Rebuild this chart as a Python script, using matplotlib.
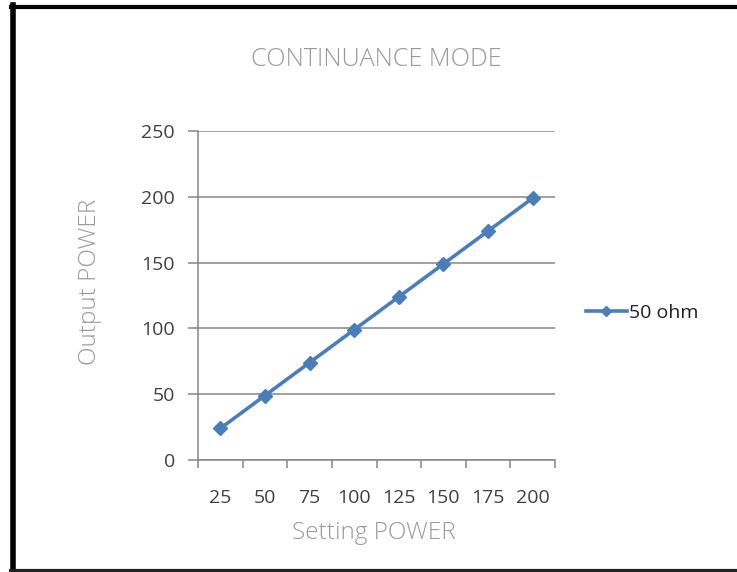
import matplotlib
matplotlib.use("Agg")
import matplotlib.pyplot as plt
from matplotlib.lines import Line2D

# data
setting_power = ["25", "50", "75", "100", "125", "150", "175", "200"]
output_50ohm = [24, 49, 74, 99, 124, 149, 174, 199]
y_ticks = [0, 50, 100, 150, 200, 250]

plt.rcParams['font.family'] = ['Open Sans', 'DejaVu Sans']

W, H = 737, 572
fig = plt.figure(figsize=(W / 100, H / 100), dpi=100)
fig.patch.set_facecolor('white')

# plot area in pixels
left, right, top, bottom = 198, 555, 131, 460
pw, ph = right - left, bottom - top
ax = fig.add_axes([left / W, 1 - bottom / H, pw / W, ph / H])

xs = list(range(len(setting_power)))
ax.plot(xs, output_50ohm, color='#4a7ebb', lw=2.6, marker='D', ms=7,
        markerfacecolor='#4a7ebb', markeredgecolor='#4a7ebb', label='50 ohm')

ax.set_xlim(-0.5, len(setting_power) - 0.5)
ax.set_ylim(0, 250)
ax.set_yticks(y_ticks)
ax.set_xticks(xs)
ax.set_xticklabels(setting_power)
ax.set_xticks([i - 0.5 for i in range(len(setting_power) + 1)], minor=True)

grid_c = '#868686'
ax.yaxis.grid(True, color=grid_c, lw=1.1)
ax.set_axisbelow(True)
for s in ['top', 'right']:
    ax.spines[s].set_visible(False)
for s in ['left', 'bottom']:
    ax.spines[s].set_color(grid_c)
    ax.spines[s].set_linewidth(1.1)

ax.tick_params(axis='y', length=7, width=1.1, color=grid_c, labelsize=14,
               labelcolor='#404040', pad=9.5)
ax.tick_params(axis='x', which='major', length=0, labelsize=14,
               labelcolor='#404040', pad=21)
ax.tick_params(axis='x', which='minor', length=6, width=1.1, color=grid_c)

lab_c = '#9a9a9a'
ax.set_xlabel('Setting POWER', fontsize=17.5, color=lab_c, fontweight='light')
ax.xaxis.label.set_va('center')
ax.xaxis.set_label_coords((374 - left) / pw, (bottom - 533) / ph)
ax.set_ylabel('Output POWER', fontsize=17.5, color=lab_c, fontweight='light')
ax.yaxis.label.set_va('center')
ax.yaxis.set_label_coords((90 - left) / pw, (bottom - 282) / ph)
ax.set_title('CONTINUANCE MODE', fontsize=18.2, color=lab_c, fontweight='light',
             y=(bottom - 60) / ph, pad=0, va='center')

ax.legend(loc='center left', bbox_to_anchor=((578 - left) / pw, (bottom - 313) / ph),
          frameon=False, fontsize=14, handlelength=2.1, handletextpad=0.1,
          borderaxespad=0, markerscale=0.8, labelcolor='#202020')

# black frame around the chart
fig.add_artist(Line2D([13 / W, 13 / W], [0, 1 - 5 / H], color='black', lw=4))
fig.add_artist(Line2D([11 / W, 1], [1 - 6.5 / H, 1 - 6.5 / H], color='black', lw=3))
fig.add_artist(Line2D([11 / W, 1], [1.5 / H, 1.5 / H], color='#202020', lw=3))

fig.savefig('out.png', dpi=100, facecolor='white')
